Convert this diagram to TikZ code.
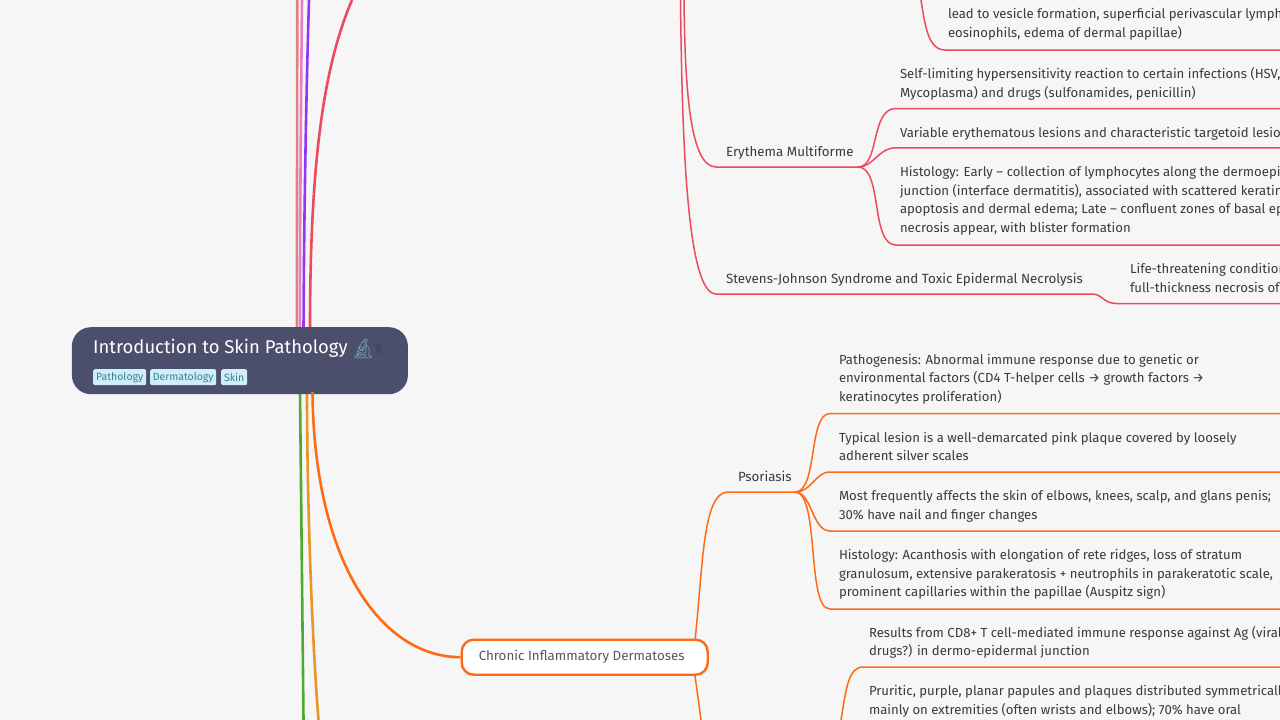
\documentclass[tikz,border=0pt]{standalone}
\usepackage{fontspec}
\setmainfont{Fira Sans}
\newfontfamily\emojifont{Noto Emoji}
\definecolor{bgc}{HTML}{F6F6F6}
\definecolor{topicc}{HTML}{4C4F6B}
\definecolor{tagbg}{HTML}{CFEFF7}
\definecolor{tagtx}{HTML}{3B7F96}
\definecolor{redc}{HTML}{EC4A5E}
\definecolor{orgc}{HTML}{FF6A13}
\definecolor{txtc}{HTML}{3A3A3F}
\definecolor{pinkc}{HTML}{E77FC8}
\definecolor{salmc}{HTML}{E08080}
\definecolor{purpc}{HTML}{9238F0}
\definecolor{grnc}{HTML}{4CAB2C}
\definecolor{ambc}{HTML}{E8952C}
\tikzset{
 x=1pt,y=-1pt,
 leaf/.style={anchor=base west,inner sep=0pt,outer sep=0pt,align=left,text=txtc,font=\fontsize{13.15}{18.5}\selectfont},
 lab/.style={leaf,font=\fontsize{13.35}{18.5}\selectfont},
 tagn/.style={anchor=north west,fill=tagbg,text=tagtx,rounded corners=2pt,inner sep=0pt,minimum height=16pt,font=\fontsize{10.5}{12}\selectfont},
 mainb/.style={line width=2.6pt},
 subr/.style={line width=1.5pt,redc},
 subo/.style={line width=1.5pt,orgc},
}
\begin{document}
\begin{tikzpicture}
\useasboundingbox (0,0) rectangle (1280,720);
\fill[bgc] (0,0) rectangle (1280,720);
% free ends of the main branches
\coordinate (t1) at (297.3,0);\coordinate (t2) at (302,0);\coordinate (t3) at (309,0);\coordinate (t4) at (352,0);
\coordinate (b1) at (303.5,720);\coordinate (b2) at (318.5,720);
\coordinate (p1) at (296.8,330);\coordinate (p2) at (299.8,330);\coordinate (p3) at (303.5,330);\coordinate (p4) at (310,330);
\coordinate (p5) at (300,392);\coordinate (p6) at (307,392);\coordinate (p7) at (312.5,392);
\draw[mainb,salmc] (t1) -- (p1);
\draw[mainb,pinkc] (t2) .. controls (301,100) and (300,220) .. (p2);
\draw[mainb,purpc] (t3) .. controls (306,100) and (304,220) .. (p3);
\draw[mainb,redc] (t4) .. controls (322,70) and (310,170) .. (p4);
\draw[mainb,grnc] (p5) -- (b1);
\draw[mainb,ambc] (p6) .. controls (307,500) and (312,640) .. (b2);
\node[anchor=north west,minimum width=336pt,minimum height=67pt,inner sep=0pt,fill=topicc,rounded corners=19pt] (topic) at (71.7,327) {};
\node[anchor=north west,minimum width=246pt,minimum height=35pt,inner sep=0pt,fill=white,draw=orgc,line width=2.4pt,rounded corners=12pt,text=txtc!85,font=\fontsize{13.35}{16}\selectfont] (chronic) at (460.5,638.5) {Chronic Inflammatory Dermatoses\rule{6pt}{0pt}};
\draw[mainb,orgc] (p7) .. controls (314,560) and (380,657) .. (chronic.west);
\node[anchor=base west,inner sep=0pt,text=white,font=\fontsize{18.45}{24}\selectfont] (title) at (93,353.3) {Introduction to Skin Pathology};
\node[anchor=base west,inner sep=0pt,text=cyan!40!gray,font=\emojifont\fontsize{19}{24}\selectfont] (mic) at (351,355.5) {🔬};
\node[anchor=base west,inner sep=0pt,text=topicc!80!black,font=\fontsize{16}{24}\selectfont] (staff) at (374,354) {\fontspec{DejaVu Sans}⚕};
\node[tagn,minimum width=53pt] (tag1) at (93,369) {Pathology};
\node[tagn,minimum width=66pt] (tag2) at (150,369) {Dermatology};
\node[tagn,minimum width=26pt] (tag3) at (221,369) {Skin};
% red group
\node[lab] (erm) at (726,156) {Erythema Multiforme};
\node[lab] (sjs) at (726,283) {Stevens-Johnson Syndrome and Toxic Epidermal Necrolysis};
\node[leaf] (bul) at (948,37) {lead to vesicle formation, superficial perivascular lymph\\eosinophils, edema of dermal papillae)};
\node[leaf] (self) at (900,97) {Self-limiting hypersensitivity reaction to certain infections (HSV,\\Mycoplasma) and drugs (sulfonamides, penicillin)};
\node[leaf] (vari) at (900,137) {Variable erythematous lesions and characteristic targetoid lesio};
\node[leaf] (hist) at (900,232) {Histology: Early – collection of lymphocytes along the dermoepi\\junction (interface dermatitis), associated with scattered keratin\\apoptosis and dermal edema; Late – confluent zones of basal ep\\necrosis appear, with blister formation};
\node[leaf] (life) at (1130,292) {Life-threatening condition\\full-thickness necrosis of};
\coordinate (r0a) at (684,0);\coordinate (r0b) at (680.5,0);
\coordinate (ermL) at (716,167);\coordinate (ermR) at (858,167);
\coordinate (sjsL) at (716,294);\coordinate (sjsR) at (1092,294);
\coordinate (lifeL) at (1116,303.5);\coordinate (lifeR) at (1280,303.5);
\coordinate (selfL) at (896,108.5);\coordinate (selfR) at (1280,108.5);
\coordinate (variL) at (896,147.8);\coordinate (variR) at (1280,147.8);
\coordinate (histL) at (896,245);\coordinate (histR) at (1280,245);
\coordinate (bulT) at (921,0);\coordinate (bulL) at (945,50);\coordinate (bulR) at (1280,50);
\draw[subr] (r0a) .. controls (685,90) and (690,167) .. (ermL) -- (ermR);
\draw[subr] (r0b) .. controls (682,130) and (686,294) .. (sjsL) -- (sjsR) .. controls (1102,294) and (1104,303.5) .. (lifeL) -- (lifeR);
\draw[subr] (ermR) .. controls (880,167) and (870,108.5) .. (selfL) -- (selfR);
\draw[subr] (ermR) .. controls (874,167) and (878,147.8) .. (variL) -- (variR);
\draw[subr] (ermR) .. controls (883,167) and (870,245) .. (histL) -- (histR);
\draw[subr] (bulT) .. controls (925,25) and (928,50) .. (bulL) -- (bulR);
% orange group
\node[lab] (pso) at (738,481) {Psoriasis};
\node[leaf] (path) at (839,401) {Pathogenesis: Abnormal immune response due to genetic or\\environmental factors (CD4 T-helper cells → growth factors →\\keratinocytes proliferation)};
\node[leaf] (typ) at (839,460.5) {Typical lesion is a well-demarcated pink plaque covered by loosely\\adherent silver scales};
\node[leaf] (most) at (839,519) {Most frequently affects the skin of elbows, knees, scalp, and glans penis;\\30\% have nail and finger changes};
\node[leaf] (phis) at (839,596.5) {Histology: Acanthosis with elongation of rete ridges, loss of stratum\\granulosum, extensive parakeratosis + neutrophils in parakeratotic scale,\\prominent capillaries within the papillae (Auspitz sign)};
\node[leaf] (res) at (869,655.5) {Results from CD8+ T cell-mediated immune response against Ag (viral\\drugs?) in dermo-epidermal junction};
\node[leaf] (prur) at (869,714) {Pruritic, purple, planar papules and plaques distributed symmetricall\\mainly on extremities (often wrists and elbows); 70\% have oral};
\coordinate (chT) at (695,640);\coordinate (chB) at (695,675.5);\coordinate (chE) at (701,720);
\coordinate (psoL) at (728,492);\coordinate (psoR) at (795,492);
\coordinate (pathL) at (830,413.5);\coordinate (pathR) at (1280,413.5);
\coordinate (typL) at (830,472);\coordinate (typR) at (1280,472);
\coordinate (mostL) at (830,531);\coordinate (mostR) at (1280,531);
\coordinate (phisL) at (830,609);\coordinate (phisR) at (1280,609);
\coordinate (resT) at (841,720);\coordinate (resL) at (863,667);\coordinate (resR) at (1280,667);
\draw[subo] (chT) .. controls (703,570) and (702,492) .. (psoL) -- (psoR);
\draw[subo] (chB) -- (chE);
\draw[subo] (psoR) .. controls (818,492) and (808,413.5) .. (pathL) -- (pathR);
\draw[subo] (psoR) .. controls (812,492) and (815,472) .. (typL) -- (typR);
\draw[subo] (psoR) .. controls (812,492) and (812,531) .. (mostL) -- (mostR);
\draw[subo] (psoR) .. controls (820,492) and (806,609) .. (phisL) -- (phisR);
\draw[subo] (resT) .. controls (846,690) and (848,667) .. (resL) -- (resR);
\end{tikzpicture}
\end{document}
